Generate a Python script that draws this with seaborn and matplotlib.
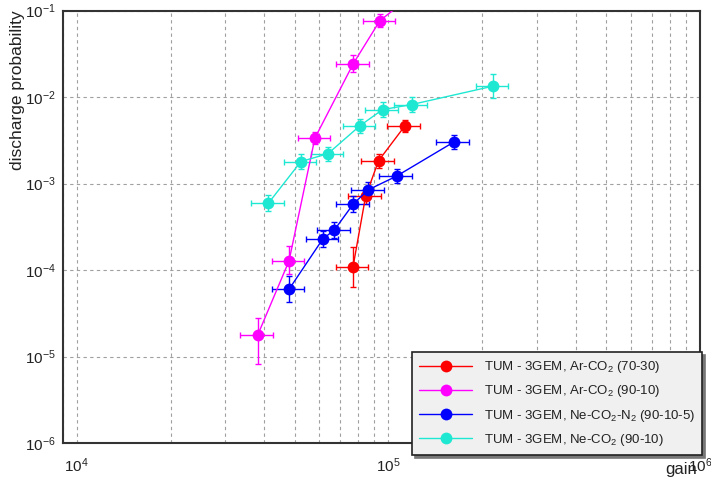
import numpy as np
import pandas as pd
import matplotlib
matplotlib.use("Agg")
import matplotlib.pyplot as plt
from matplotlib.lines import Line2D
from matplotlib.ticker import LogLocator, NullFormatter, FixedLocator
import seaborn as sns

# ---------------- data ----------------
series_names = [
    "TUM - 3GEM, Ar-CO$_2$ (70-30)",
    "TUM - 3GEM, Ar-CO$_2$ (90-10)",
    "TUM - 3GEM, Ne-CO$_2$-N$_2$ (90-10-5)",
    "TUM - 3GEM, Ne-CO$_2$ (90-10)",
]
colors = ["#ff0000", "#ff00ff", "#0000ff", "#1ee8d2"]

gain_ar7030 = [7.70e4, 8.45e4, 9.30e4, 1.127e5]
prob_ar7030 = [1.09e-4, 7.1e-4, 1.84e-3, 4.6e-3]
elo_ar7030 = [0.41, 0.19, 0.17, 0.15]
ehi_ar7030 = [0.70, 0.24, 0.21, 0.18]

gain_ar9010 = [3.81e4, 4.80e4, 5.81e4, 7.72e4, 9.39e4, 1.16e5]
prob_ar9010 = [1.78e-5, 1.28e-4, 3.36e-3, 2.45e-2, 7.66e-2, 1.4e-1]
elo_ar9010 = [0.54, 0.29, 0.15, 0.21, 0.15, 0.15]
ehi_ar9010 = [0.57, 0.49, 0.18, 0.27, 0.18, 0.18]

gain_ne_n2 = [4.80e4, 6.16e4, 6.71e4, 7.72e4, 8.62e4, 1.062e5, 1.62e5]
prob_ne_n2 = [6.0e-5, 2.29e-4, 2.91e-4, 5.83e-4, 8.48e-4, 1.22e-3, 3.02e-3]
elo_ne_n2 = [0.29, 0.19, 0.19, 0.19, 0.19, 0.17, 0.17]
ehi_ne_n2 = [0.41, 0.24, 0.24, 0.24, 0.24, 0.21, 0.21]

gain_ne9010 = [4.12e4, 5.24e4, 6.40e4, 8.11e4, 9.58e4, 1.187e5, 2.165e5]
prob_ne9010 = [5.93e-4, 1.80e-3, 2.22e-3, 4.68e-3, 7.18e-3, 8.21e-3, 1.34e-2]
elo_ne9010 = [0.19, 0.17, 0.17, 0.17, 0.17, 0.17, 0.27]
ehi_ne9010 = [0.24, 0.21, 0.21, 0.21, 0.21, 0.21, 0.38]

gain_rel_err = 0.12

x_ticks = [1e4, 1e5, 1e6]

# ---------------- build table ----------------
gains = [gain_ar7030, gain_ar9010, gain_ne_n2, gain_ne9010]
probs = [prob_ar7030, prob_ar9010, prob_ne_n2, prob_ne9010]
elos = [elo_ar7030, elo_ar9010, elo_ne_n2, elo_ne9010]
ehis = [ehi_ar7030, ehi_ar9010, ehi_ne_n2, ehi_ne9010]

rows = []
for name, g, p, lo, hi in zip(series_names, gains, probs, elos, ehis):
    for i in range(len(g)):
        rows.append(dict(series=name, gain=g[i], prob=p[i], elo=lo[i], ehi=hi[i], idx=i))
df = pd.DataFrame(rows)

# ---------------- style ----------------
sns.set_theme(style="white")
plt.rcParams["font.family"] = ["Liberation Sans", "DejaVu Sans"]
plt.rcParams["mathtext.fontset"] = "custom"
plt.rcParams["mathtext.rm"] = "Liberation Sans"
plt.rcParams["mathtext.it"] = "Liberation Sans:italic"
plt.rcParams["mathtext.default"] = "regular"

fig = plt.figure(figsize=(7.11, 4.84), dpi=100)
fig.patch.set_facecolor("white")
W, H = 711, 484
L, R, T, B = 62.5, 700, 10.7, 443
ax = fig.add_axes([L / W, 1 - B / H, (R - L) / W, (B - T) / H])

palette = dict(zip(series_names, colors))

sns.lineplot(data=df, x="gain", y="prob", hue="series", hue_order=series_names,
             palette=palette, units="series", estimator=None, sort=False,
             marker="o", markersize=8.5, markeredgewidth=0, linewidth=1.0,
             legend=False, ax=ax, zorder=3)

for name, c in zip(series_names, colors):
    d = df[df.series == name]
    yerr = np.vstack([d.prob * d.elo, d.prob * d.ehi])
    xerr = d.gain * gain_rel_err
    ax.errorbar(d.gain, d.prob, xerr=xerr, yerr=yerr, fmt="none", ecolor=c,
                elinewidth=1.0, capsize=2, capthick=1.0, zorder=2)

ax.set_xscale("log")
ax.set_yscale("log")
ax.set_xlim(9.0e3, 1.0e6)
ax.set_ylim(1e-6, 1e-1)

# grid
ax.xaxis.set_major_locator(FixedLocator(x_ticks))
ax.xaxis.set_minor_locator(LogLocator(base=10, subs=np.arange(2, 10)))
ax.xaxis.set_minor_formatter(NullFormatter())
ax.yaxis.set_major_locator(LogLocator(base=10, numticks=10))
ax.yaxis.set_minor_locator(LogLocator(base=10, subs=np.arange(2, 10), numticks=20))
ax.yaxis.set_minor_formatter(NullFormatter())
ax.grid(which="both", axis="x", color="#a0a0a0", linestyle=(0, (3, 3)), linewidth=0.8)
ax.grid(which="major", axis="y", color="#a0a0a0", linestyle=(0, (3, 3)), linewidth=0.8)
ax.set_axisbelow(True)

ax.tick_params(axis="both", which="both", direction="in", colors="#333333",
               labelcolor="#222222", labelsize=11)
ax.tick_params(axis="x", which="major", length=9, width=1.2, pad=10)
ax.tick_params(axis="x", which="minor", length=4.5, width=1.0)
ax.tick_params(axis="y", which="major", length=11, width=1.2, pad=5)
ax.tick_params(axis="y", which="minor", length=5.5, width=1.0)

for s in ax.spines.values():
    s.set_color("#333333")
    s.set_linewidth(1.5)

ax.set_xlabel("gain", loc="right", fontsize=12, color="#222222")
ax.xaxis.set_label_coords((697 - L) / (R - L), -(462 - B) / (B - T))
ax.set_ylabel("discharge probability", loc="top", fontsize=12.5, color="#222222", labelpad=0)

# legend
handles = [Line2D([0], [0], color=c, lw=1.0, marker="o", markersize=8.5,
                  markeredgewidth=0) for c in colors]
leg = fig.legend(handles, series_names, loc="upper left",
                 bbox_to_anchor=(412 / W, 1 - 352 / H), borderaxespad=0,
                 fontsize=9.5, frameon=True, fancybox=False,
                 shadow={"color": "#777777", "alpha": 1.0},
                 facecolor="#f0f0f0", edgecolor="#222222", framealpha=1,
                 handlelength=4.0, handletextpad=0.9, borderpad=0.55,
                 labelspacing=0.62)
leg.get_frame().set_linewidth(1.2)
for t in leg.get_texts():
    t.set_color("#222222")

fig.savefig("out.png", dpi=100)
